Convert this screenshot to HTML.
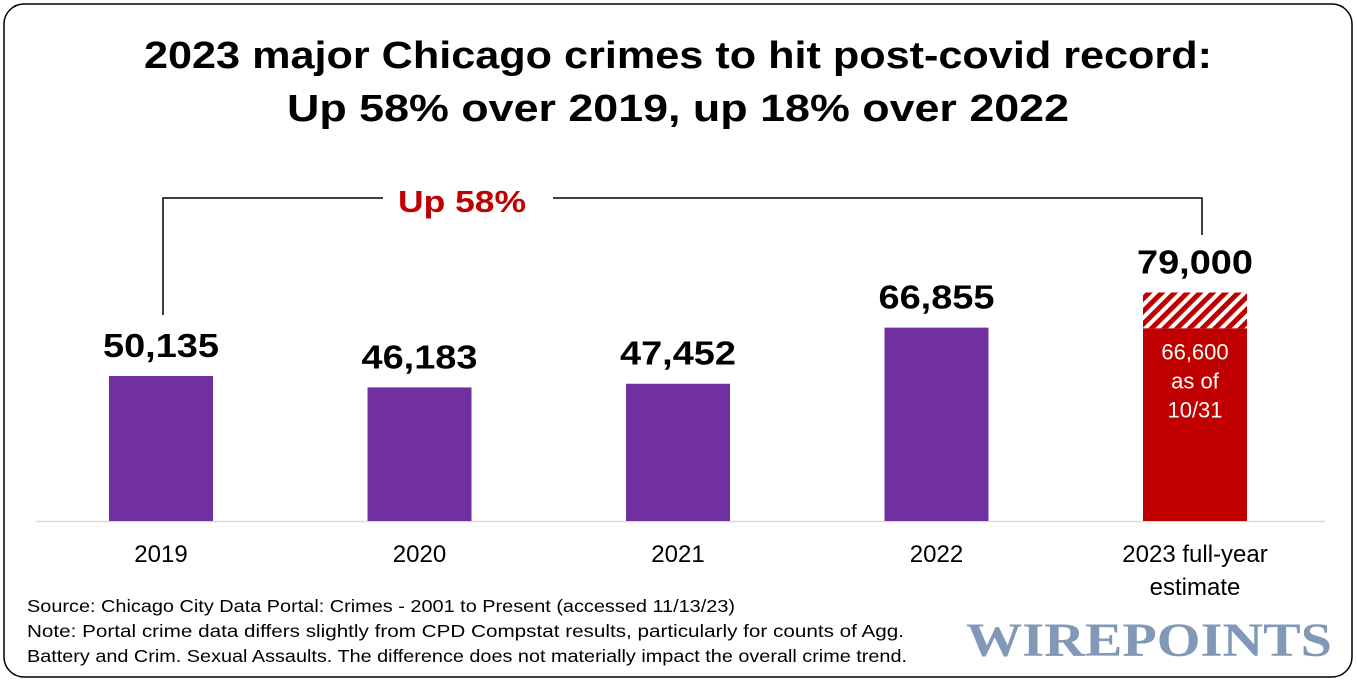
<!DOCTYPE html>
<html><head><meta charset="utf-8"><style>
body{margin:0;width:1357px;height:682px;background:#fff;font-family:"Liberation Sans",sans-serif;overflow:hidden}
svg text{font-family:"Liberation Sans",sans-serif}
</style></head><body>
<svg id="c" width="1357" height="682">
<defs><pattern id="hatch" patternUnits="userSpaceOnUse" width="9" height="9" patternTransform="rotate(45)">
<rect width="9" height="9" fill="#fff"/><rect width="5" height="9" fill="#c00000"/></pattern></defs>
<rect x="4" y="4" width="1348" height="673" rx="20" fill="#fff" stroke="#000" stroke-width="1.5"/>
<text x="678" y="68" text-anchor="middle" font-size="38" font-weight="bold" fill="#000" textLength="1068" lengthAdjust="spacingAndGlyphs">2023 major Chicago crimes to hit post-covid record:</text>
<text x="678" y="121" text-anchor="middle" font-size="38" font-weight="bold" fill="#000" textLength="782" lengthAdjust="spacingAndGlyphs">Up 58% over 2019, up 18% over 2022</text>
<polyline points="163,315 163,198 383,198" fill="none" stroke="#000" stroke-width="1.5"/>
<polyline points="553,198 1202,198 1202,235" fill="none" stroke="#000" stroke-width="1.5"/>
<text x="462" y="212" text-anchor="middle" font-size="31" font-weight="bold" fill="#c00000" textLength="128" lengthAdjust="spacingAndGlyphs">Up 58%</text>
<line x1="36" y1="521.5" x2="1325" y2="521.5" stroke="#d9d9d9" stroke-width="1.5"/>
<g id="bars"></g>
<text x="27" y="612" font-size="17.5" fill="#000" textLength="708" lengthAdjust="spacingAndGlyphs">Source: Chicago City Data Portal: Crimes - 2001 to Present (accessed 11/13/23)</text>
<text x="27" y="637" font-size="17.5" fill="#000" textLength="877" lengthAdjust="spacingAndGlyphs">Note: Portal crime data differs slightly from CPD Compstat results, particularly for counts of Agg.</text>
<text x="27" y="662" font-size="17.5" fill="#000" textLength="880" lengthAdjust="spacingAndGlyphs">Battery and Crim. Sexual Assaults. The difference does not materially impact the overall crime trend.</text>
<text x="1149" y="656" text-anchor="middle" font-size="48" font-weight="bold" fill="#8199b7" textLength="366" lengthAdjust="spacingAndGlyphs" style="font-family:'Liberation Serif',serif">WIREPOINTS</text>
</svg>
<script>
const categories=["2019","2020","2021","2022","2023 full-year|estimate"];
const values=[50135,46183,47452,66855,79000];
const valueLabels=["50,135","46,183","47,452","66,855","79,000"];
const actual2023=66600;
const base=521,scale=228.5/79000,bw=104;
function xc(i){return 161+i*258.5;}
function y(v){return base-v*scale;}
const g=document.getElementById('bars'),ns="http://www.w3.org/2000/svg";
function mk(t,a,txt){const e=document.createElementNS(ns,t);for(const k in a)e.setAttribute(k,a[k]);if(txt!=null)e.textContent=txt;g.appendChild(e);return e;}
categories.forEach((c,i)=>{
  const last=i===categories.length-1;
  if(!last){
    const r=mk('rect',{x:xc(i)-bw/2,y:y(values[i]),width:bw,height:base-y(values[i]),fill:'#7030a0'});
    
    
  }else{
    const h=mk('rect',{x:xc(i)-bw/2,y:y(values[i]),width:bw,height:y(actual2023)-y(values[i]),fill:'url(#hatch)'});
    
    
    const r=mk('rect',{x:xc(i)-bw/2,y:y(actual2023),width:bw,height:base-y(actual2023),fill:'#c00000'});
    
    
    ["66,600","as of","10/31"].forEach((t,k)=>{
      const tx=mk('text',{x:xc(i),y:y(actual2023)+31+k*29,'text-anchor':'middle','font-size':22,fill:'#fff'},t);
      
      
    });
  }
  const vl=mk('text',{x:xc(i),y:y(values[i])-19,'text-anchor':'middle','font-size':33,'font-weight':'bold',fill:'#000',textLength:116,lengthAdjust:'spacingAndGlyphs'},valueLabels[i]);
  
  
  c.split('|').forEach((p,k)=>{
    const t=mk('text',{x:xc(i),y:562+k*33,'text-anchor':'middle','font-size':24,fill:'#000'},p);
    
    
  });
});
</script>
</body></html>
